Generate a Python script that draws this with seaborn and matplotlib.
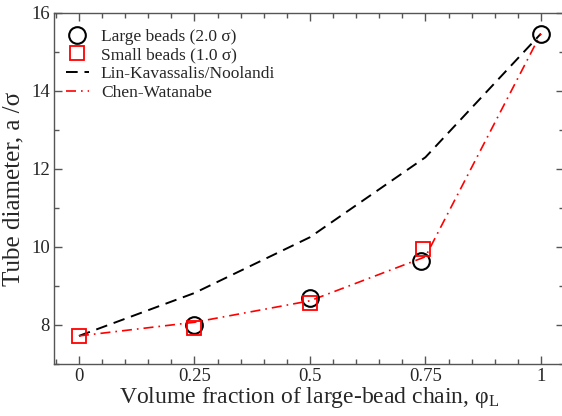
#tube diameter vs volume fraction of large-bead chain

import numpy as np
import matplotlib
matplotlib.use('Agg')
import matplotlib.pyplot as plt
from matplotlib.ticker import MultipleLocator
import seaborn as sns

#data
phi_large = [0.25, 0.5, 0.74, 1.0]
d_large = [8.0, 8.69, 9.64, 15.47]

phi_small = [0.0, 0.25, 0.5, 0.745]
d_small = [7.72, 7.92, 8.56, 9.95]

phi_theory = [0.0, 0.25, 0.5, 0.75, 1.0]
d_lin = [7.72, 8.82, 10.25, 12.3, 15.47]
d_chen = [7.72, 8.07, 8.62, 9.75, 15.47]

sns.set_style('ticks')
plt.rcParams['font.family'] = ['Liberation Serif', 'DejaVu Serif']
plt.rcParams['mathtext.fontset'] = 'custom'
plt.rcParams['mathtext.rm'] = 'Liberation Serif'
plt.rcParams['mathtext.it'] = 'Liberation Serif'

fig = plt.figure(figsize=(5.62, 4.16), dpi=100)
ax = fig.add_axes([54/562, 52/416, 510/562, 351/416])

#lines first, markers on top
sns.lineplot(x=phi_theory, y=d_lin, ax=ax, color='black', lw=1.4,
             linestyle=(0, (6, 3.5)), label='Lin-Kavassalis/Noolandi', zorder=2)
sns.lineplot(x=phi_theory, y=d_chen, ax=ax, color='red', lw=1.2,
             linestyle=(0, (6, 3, 1, 3)), label='Chen-Watanabe', zorder=2)
sns.lineplot(x=phi_large, y=d_large, ax=ax, color='black', linestyle='none',
             marker='o', markersize=12, markerfacecolor='none', markeredgecolor='black',
             markeredgewidth=1.5, label='Large beads (2.0 σ)', zorder=3)
sns.lineplot(x=phi_small, y=d_small, ax=ax, color='red', linestyle='none',
             marker='s', markersize=10.5, markerfacecolor='none', markeredgecolor='red',
             markeredgewidth=1.3, label='Small beads (1.0 σ)', zorder=3)

ax.set_xlim(-0.054, 1.05)
ax.set_ylim(7, 16)
ax.xaxis.set_major_locator(MultipleLocator(0.25))
ax.xaxis.set_minor_locator(MultipleLocator(0.05))
ax.yaxis.set_major_locator(MultipleLocator(2))
ax.yaxis.set_minor_locator(MultipleLocator(1))
ax.set_xticks([0, 0.25, 0.5, 0.75, 1])
ax.set_xticklabels(['0', '0.25', '0.5', '0.75', '1'])
ax.tick_params(which='both', direction='in', top=True, right=True,
               labelsize=13.5, color='#555555', width=1.0, pad=3)
ax.tick_params(which='major', length=6)
ax.tick_params(which='minor', length=3.5)
for s in ax.spines.values():
    s.set_color('#555555')
    s.set_linewidth(1.0)

ax.set_xlabel('Volume fraction of large-bead chain, $\u03c6_{\\mathrm{L}}$', fontsize=17, labelpad=0)
ax.set_ylabel('Tube diameter, a /σ', fontsize=18, labelpad=5)

h, l = ax.get_legend_handles_labels()
order = [2, 3, 0, 1]
ax.legend([h[i] for i in order], [l[i] for i in order], loc='upper left',
          frameon=False, fontsize=12.5, handlelength=1.3, handletextpad=0.7,
          labelspacing=0.15, borderaxespad=0.3, bbox_to_anchor=(0.0, 0.99))

fig.savefig('out.png', dpi=100)
